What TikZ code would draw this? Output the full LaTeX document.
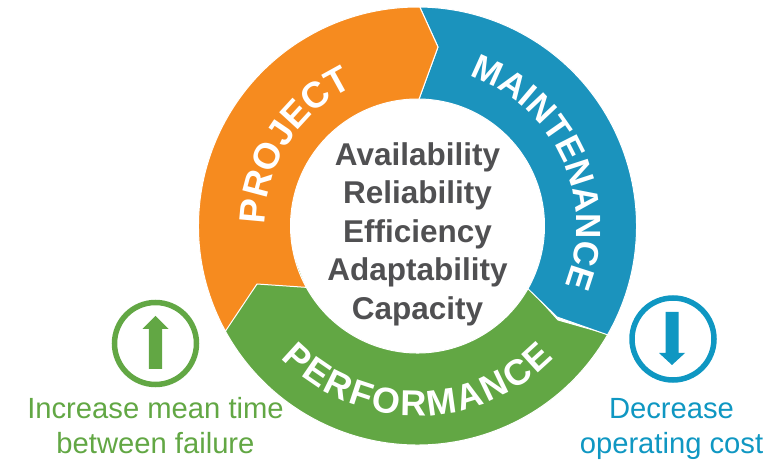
\documentclass[tikz,border=0pt]{standalone}
\usepackage{fontspec}
\setmainfont{Liberation Sans}
\usetikzlibrary{decorations.text}

\definecolor{projectorange}{RGB}{246,139,31}
\definecolor{maintblue}{RGB}{27,147,189}
\definecolor{perfgreen}{RGB}{98,167,68}
\definecolor{iconblue}{RGB}{15,151,194}
\definecolor{textgray}{RGB}{80,80,82}

\newcommand{\ringfont}[1]{\bfseries\fontsize{#1}{#1}\selectfont\color{white}}

\tikzset{
  segment/.style={draw=white, line width=1pt, line join=round},
  ringlabel/.style={decorate, decoration={text along path, text align=center, text={#1}}},
  fitlabel/.style={decorate, decoration={text along path, text align=fit to path, text={#1}}},
  icon/.style={circle, draw=#1, line width=5.5pt, inner sep=0pt, minimum size=82pt},
  caption/.style={font=\fontsize{29.2}{35}\selectfont, align=center, anchor=base},
  centretext/.style={font=\bfseries\fontsize{31.5}{38.5}\selectfont, align=center, text=textgray}
}

\begin{document}
\begin{tikzpicture}[x=1pt,y=1pt]
\useasboundingbox (0,0) rectangle (784,460);

%% ring segments
\begin{scope}[shift={(417.5,234)}]
\fill[segment, fill=perfgreen] (208.7:219) -- (-160.5,66) -- (208.9:127) arc[start angle=208.9, end angle=331, radius=127]
   -- (140.5,-94) -- (-29.6:219) arc[start angle=-29.6, end angle=-151.3, radius=219] -- cycle;
\fill[segment, fill=maintblue] (89.4:219) -- (20.5,179) -- (89.3:127) arc[start angle=89.3, end angle=-29.6, radius=127]
   -- (139.5,-91) -- (-29.8:219) arc[start angle=-29.8, end angle=89.4, radius=219] -- cycle;
\fill[segment, fill=projectorange] (89.4:219) -- (20.5,179) -- (89.3:127) arc[start angle=89.3, end angle=208.9, radius=127]
   -- (-160.5,-58) -- (208.7:219) arc[start angle=208.7, end angle=89.4, radius=219] -- cycle;

%% ring labels
\path[ringlabel={|\ringfont{36.5}|PROJECT}] (197:153) arc[start angle=197, end angle=97, radius=153];
\path[fitlabel={|\ringfont{35}|MAINTENANCE}] (71:159) arc[start angle=71, end angle=-22, radius=159];
\path[fitlabel={|\ringfont{36}|PERFORMANCE}] (224:190) arc[start angle=224, end angle=316, radius=190];
\end{scope}

%% centre list
\node[centretext] (metrics) at (417.5,226) {Availability\\Reliability\\Efficiency\\Adaptability\\Capacity};

%% left icon
\node[icon=perfgreen] (upcircle) at (155.5,116.5) {};
\fill[perfgreen] (155.5,144) -- (168.5,131) -- (162.2,131) -- (162.2,91) -- (148.8,91) -- (148.8,131) -- (142.5,131) -- cycle;
\node[caption, text=perfgreen] (upcaption) at (155.5,6) {Increase mean time\\between failure};

%% right icon
\node[icon=iconblue] (downcircle) at (673,121) {};
\fill[iconblue] (672,95) -- (685,107) -- (678.5,107) -- (678.5,148) -- (665.5,148) -- (665.5,107) -- (659,107) -- cycle;
\node[caption, text=iconblue] (downcaption) at (671.5,6) {Decrease\\operating cost};

\end{tikzpicture}
\end{document}
